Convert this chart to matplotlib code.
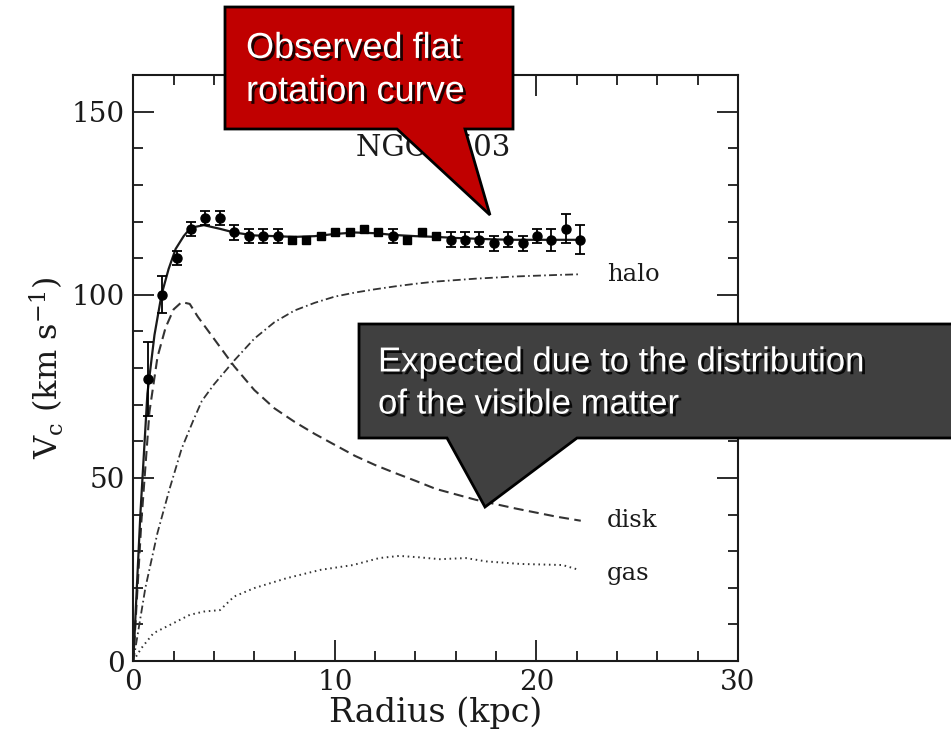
import matplotlib
matplotlib.use("Agg")
import matplotlib.pyplot as plt
from matplotlib.patches import Polygon
from matplotlib.ticker import MultipleLocator
import matplotlib.patheffects as pe

# Observed rotation curve of NGC 6503
radius_obs = [0.72, 1.43, 2.15, 2.86, 3.58, 4.29, 5.01, 5.73, 6.45, 7.16, 7.88,
              8.59, 9.30, 10.02, 10.73, 11.45, 12.16, 12.88, 13.59, 14.31, 15.02,
              15.74, 16.45, 17.17, 17.88, 18.60, 19.31, 20.03, 20.74, 21.46, 22.18]
v_obs = [77, 100, 110, 118, 121, 121, 117, 116, 116, 116, 115,
         115, 116, 117, 117, 118, 117, 116, 115, 117, 116,
         115, 115, 115, 114, 115, 114, 116, 115, 118, 115]
v_err = [10, 5, 2, 2, 2, 2, 2, 2, 2, 2, 0,
         0, 0, 0, 0, 0, 0, 2, 0, 0, 0,
         2, 2, 2, 2, 2, 2, 2, 3, 4, 4]

# Model fit (total) and its components
r_fit = [0, 0.35, 0.7, 1.05, 1.4, 1.75, 2.1, 2.5, 2.85, 3.5, 4.3, 5, 6, 7, 8, 9,
         10, 11, 12, 13, 14, 15, 16, 17, 18, 19, 20, 21, 22.2]
v_fit = [0, 40, 73, 89, 100, 107, 112.5, 116, 118.3, 119, 118, 117, 116.2, 116,
         115.8, 116, 116.6, 117, 116.8, 116.3, 116, 115.8, 115.5, 115.3, 115.1,
         115, 115, 115, 115]

r_disk = [0, 0.4, 0.8, 1.2, 1.6, 2.0, 2.4, 2.8, 3.2, 4, 5, 6, 7, 8, 9, 10, 11,
          12, 13, 14, 15, 16, 17, 18, 19, 20, 21, 22.2]
v_disk = [0, 38, 68, 83, 91, 96, 98, 97.5, 94, 88, 80.5, 74, 69, 65.3, 62, 59,
          56, 53.5, 51.3, 49.2, 47, 45.5, 44, 42.8, 41.6, 40.5, 39.4, 38.3]

r_halo = [0, 0.6, 1.2, 1.8, 2.4, 3.0, 3.4, 4, 5, 6, 7, 8, 9, 10, 11, 12, 13,
          14, 15, 16, 17, 18, 19, 20, 21, 22.2]
v_halo = [0, 20, 35, 47, 58, 66, 71, 75.5, 82, 88, 92.5, 95.7, 97.8, 99.5,
          100.6, 101.5, 102.3, 103, 103.6, 104, 104.4, 104.7, 105, 105.2,
          105.4, 105.6]

r_gas = [0, 0.4, 1.0, 1.8, 2.8, 3.5, 4.3, 5.0, 6.0, 7.6, 9.3, 10.9, 12.2, 13.2,
         14.2, 15.2, 16.5, 17.5, 19.2, 21.3, 22.1]
v_gas = [0, 3.5, 7.6, 9.8, 12.6, 13.5, 13.9, 17.6, 19.9, 22.6, 24.9, 26.2,
         28.1, 28.7, 28.3, 27.8, 28.1, 27.2, 26.5, 26.2, 24.9]

component_names = ["halo", "disk", "gas"]
component_label_v = [105.5, 38.3, 24.0]

plt.rcParams["font.family"] = "DejaVu Serif"
plt.rcParams["mathtext.fontset"] = "dejavuserif"

W, H = 951, 735
fig = plt.figure(figsize=(W / 100, H / 100), dpi=100)
ax = fig.add_axes([133.3 / W, (H - 661) / H, (738 - 133.3) / W, (661 - 75) / H])

ink = "#1a1a1a"
ax.plot(r_fit, v_fit, color=ink, lw=1.6, zorder=3)
ax.plot(r_disk, v_disk, color="#333333", lw=1.5, dashes=(4.8, 2.6))
ax.plot(r_halo, v_halo, color="#333333", lw=1.3, dashes=(4.4, 1.8, 0.9, 1.8))
ax.plot(r_gas, v_gas, color="#333333", lw=1.4, dashes=(0.8, 1.9))

r_c = [r for r, e in zip(radius_obs, v_err) if e > 0]
v_c = [v for v, e in zip(v_obs, v_err) if e > 0]
e_c = [e for e in v_err if e > 0]
r_s = [r for r, e in zip(radius_obs, v_err) if e == 0]
v_s = [v for v, e in zip(v_obs, v_err) if e == 0]
ax.errorbar(r_c, v_c, yerr=e_c, fmt="o", color="black", ms=6.5, capsize=3.5,
            elinewidth=1.3, capthick=1.3, zorder=4)
ax.plot(r_s, v_s, "s", color="black", ms=5.5, zorder=4)

for name, v in zip(component_names, component_label_v):
    ax.text(23.5, v, name, fontsize=17.5, va="center", ha="left", color=ink)
ax.text(14.9, 140, "NGC 6503", fontsize=21, ha="center", va="center", color=ink)

ax.set_xlim(0, 30)
ax.set_ylim(0, 160)
ax.set_xticks([0, 10, 20, 30])
ax.set_yticks([0, 50, 100, 150])
ax.xaxis.set_minor_locator(MultipleLocator(2))
ax.yaxis.set_minor_locator(MultipleLocator(10))
ax.tick_params(which="both", direction="in", top=True, right=True,
               width=1.3, color=ink, labelsize=20, labelcolor=ink)
ax.tick_params(which="major", length=15, pad=6)
ax.tick_params(which="minor", length=7.5)
for s in ax.spines.values():
    s.set_linewidth(1.5)
    s.set_color(ink)
ax.set_xlabel("Radius (kpc)", fontsize=24, color=ink, labelpad=0)
ax.set_ylabel(r"V$_{\rm c}$ (km s$^{-1}$)", fontsize=23, color=ink, labelpad=4)

# Callout overlay in pixel coordinates
ov = fig.add_axes([0, 0, 1, 1])
ov.set_xlim(0, W)
ov.set_ylim(H, 0)
ov.axis("off")

shadow = [pe.SimplePatchShadow(offset=(2, -2), shadow_rgbFace="black", alpha=0.85),
          pe.Normal()]
callout_font = ["Liberation Sans Narrow", "Liberation Sans", "DejaVu Sans"]

red = Polygon([(225, 7), (513, 7), (513, 129), (465, 129), (490, 215),
               (397, 129), (225, 129)], closed=True, facecolor="#c00000",
               edgecolor="black", lw=2, zorder=10)
ov.add_patch(red)
ov.text(246, 70, "Observed flat\nrotation curve", color="white", fontsize=26,
        family=callout_font, va="center", ha="left", linespacing=1.3,
        zorder=11, path_effects=shadow)

gray = Polygon([(359, 324), (960, 324), (960, 438), (577, 438), (485, 507),
                (447, 438), (359, 438)], closed=True, facecolor="#404040",
               edgecolor="black", lw=2, zorder=10)
ov.add_patch(gray)
ov.text(378, 383, "Expected due to the distribution\nof the visible matter",
        color="white", fontsize=25, family=callout_font, va="center", ha="left",
        linespacing=1.35, zorder=11, path_effects=shadow)

fig.savefig("out.png", dpi=100)
